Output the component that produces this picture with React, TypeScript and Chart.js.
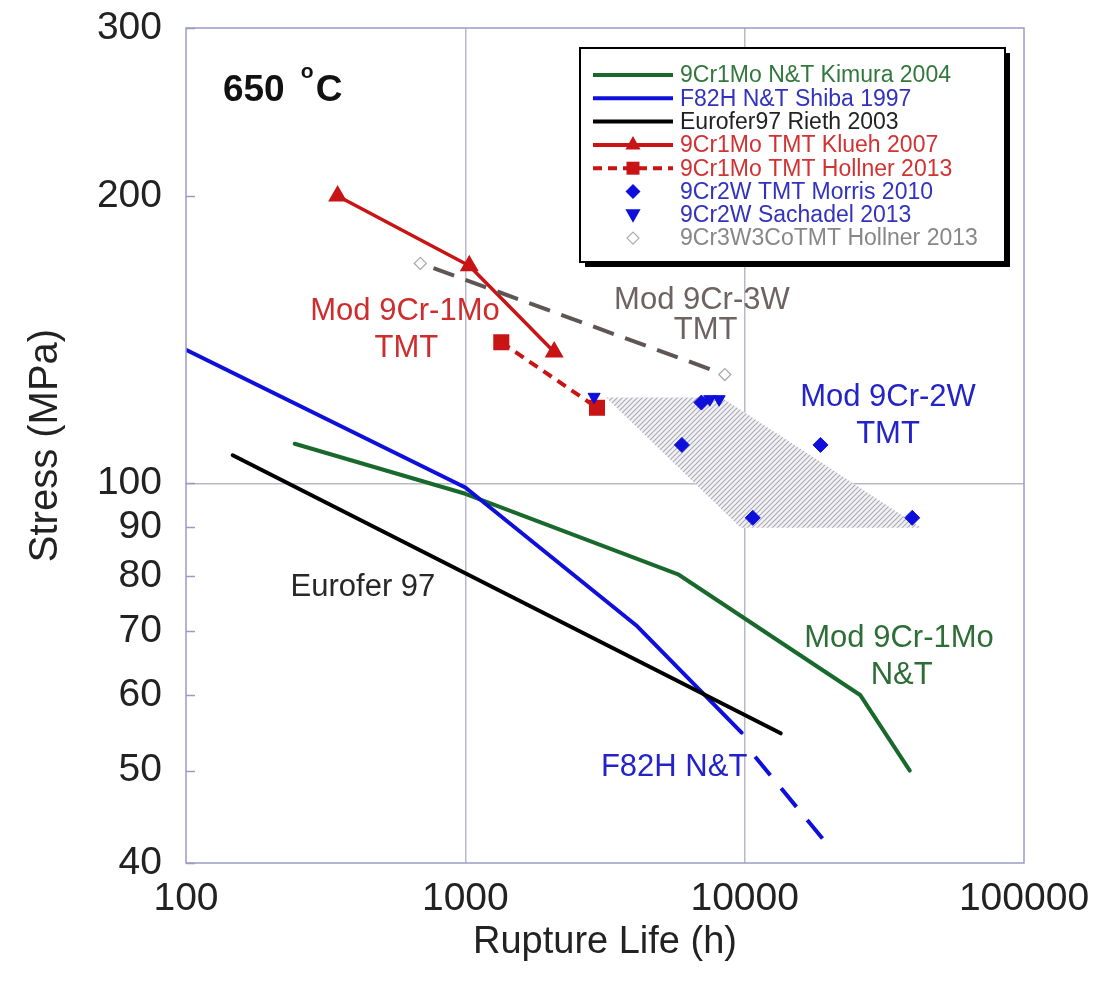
import React, { useEffect, useRef } from 'react';
import { Chart, registerables } from 'chart.js';

Chart.register(...registerables);

const FONT = '"Liberation Sans", Arial, sans-serif';

// Axis ticks
const xTicks = [100, 1000, 10000, 100000];
const yTicks = [40, 50, 60, 70, 80, 90, 100, 200, 300];

// Series (rupture life h, stress MPa)
const kimuraX = [245, 1000, 5810, 25900, 39000];
const kimuraY = [110, 97.5, 80.2, 60, 50];
const shibaX = [100, 1000, 4085, 9750];
const shibaY = [138, 99, 71, 54.8];
const shibaExtX = [10900, 19950];
const shibaExtY = [51.7, 41.7];
const riethX = [147, 1000, 13460];
const riethY = [107, 80.5, 54.7];
const kluehX = [349, 1033, 2080];
const kluehY = [200, 169, 137.3];
const hollnerX = [1345, 2960];
const hollnerY = [140.5, 120];
const morrisX = [5960, 18680, 10690, 39800, 7000];
const morrisY = [109.7, 109.7, 92, 92, 121.5];
const sachadelX = [2890, 7500, 8100];
const sachadelY = [123.2, 122.5, 122.5];
const hollnerCoX = [690, 8490];
const hollnerCoY = [170, 130];
const bandX = [3190, 8280, 42850, 9680, 3190];
const bandY = [123, 123, 89.8, 89.8, 123];

// Legend
const legendLabels = [
  '9Cr1Mo N&T Kimura 2004',
  'F82H N&T Shiba 1997',
  'Eurofer97 Rieth 2003',
  '9Cr1Mo TMT Klueh 2007',
  '9Cr1Mo TMT Hollner 2013',
  '9Cr2W TMT Morris 2010',
  '9Cr2W Sachadel 2013',
  '9Cr3W3CoTMT Hollner 2013',
];
const legendTextColors = [
  'rgb(50,120,60)', 'rgb(50,50,190)', '#222', 'rgb(210,50,50)',
  'rgb(210,50,50)', 'rgb(50,50,190)', 'rgb(50,50,190)', 'rgb(135,135,135)',
];

// In-plot labels (positioned in data coordinates)
const annotText = ['Mod 9Cr-1Mo', 'TMT', 'Mod 9Cr-3W', 'TMT', 'Mod 9Cr-2W', 'TMT', 'Eurofer 97', 'Mod 9Cr-1Mo', 'N&T', 'F82H N&T'];
const annotX = [608, 615, 7030, 7250, 32600, 32600, 430, 35700, 36500, 5590];
const annotY = [151.4, 138.5, 155.4, 144.6, 123, 112.6, 77.7, 68.8, 62.9, 50.4];
const annotColor = [
  'rgb(205,45,45)', 'rgb(205,45,45)', 'rgb(110,98,98)', 'rgb(110,98,98)',
  'rgb(35,35,200)', 'rgb(35,35,200)', 'rgb(40,40,40)', 'rgb(45,110,55)', 'rgb(45,110,55)', 'rgb(35,35,200)',
];
const tempLabelX = 135.6;
const tempLabelY = 258;

const GREEN = 'rgb(25,105,45)';
const BLUE = 'rgb(15,15,220)';
const RED = 'rgb(200,20,20)';
const GRAYLINE = 'rgb(95,85,85)';
const BORDER = 'rgb(155,155,200)';
const GRID = 'rgb(185,185,198)';

const pts = (xs: number[], ys: number[]) => xs.map((x, i) => ({ x, y: ys[i] }));

function drawMarker(ctx: CanvasRenderingContext2D, kind: string, x: number, y: number, r: number, fill: string, stroke?: string) {
  ctx.beginPath();
  if (kind === 'tri') {
    ctx.moveTo(x, y - r);
    ctx.lineTo(x + r * 0.95, y + r * 0.7);
    ctx.lineTo(x - r * 0.95, y + r * 0.7);
  } else if (kind === 'tridown') {
    ctx.moveTo(x, y + r);
    ctx.lineTo(x + r * 0.95, y - r * 0.7);
    ctx.lineTo(x - r * 0.95, y - r * 0.7);
  } else if (kind === 'square') {
    ctx.rect(x - r, y - r, 2 * r, 2 * r);
  } else if (kind === 'diamond') {
    ctx.moveTo(x, y - r);
    ctx.lineTo(x + r, y);
    ctx.lineTo(x, y + r);
    ctx.lineTo(x - r, y);
  }
  ctx.closePath();
  ctx.fillStyle = fill;
  ctx.fill();
  if (stroke) {
    ctx.strokeStyle = stroke;
    ctx.lineWidth = 1.2;
    ctx.stroke();
  }
}

const decor = {
  id: 'decor',
  afterDraw(chart: any) {
    const { ctx, chartArea: a, scales } = chart;
    const xs = scales.x;
    const ys = scales.y;
    ctx.save();
    // frame
    ctx.strokeStyle = BORDER;
    ctx.lineWidth = 1.5;
    ctx.strokeRect(a.left, a.top, a.right - a.left, a.bottom - a.top);
    // inward ticks on y axis
    yTicks.forEach((v) => {
      const py = Math.round(ys.getPixelForValue(v)) + 0.5;
      ctx.beginPath();
      ctx.moveTo(a.left, py);
      ctx.lineTo(a.left + 9, py);
      ctx.stroke();
    });

    // in-plot labels
    ctx.textAlign = 'center';
    ctx.textBaseline = 'middle';
    ctx.font = `31px ${FONT}`;
    annotText.forEach((t, i) => {
      ctx.fillStyle = annotColor[i];
      ctx.fillText(t, xs.getPixelForValue(annotX[i]), ys.getPixelForValue(annotY[i]));
    });

    // temperature label
    const tx = xs.getPixelForValue(tempLabelX);
    const ty = ys.getPixelForValue(tempLabelY);
    ctx.textAlign = 'left';
    ctx.fillStyle = '#111';
    ctx.font = `bold 37px ${FONT}`;
    ctx.fillText('650', tx, ty);
    const w650 = ctx.measureText('650').width;
    ctx.font = `bold 21px ${FONT}`;
    ctx.fillText('o', tx + w650 + 16, ty - 18);
    ctx.font = `bold 37px ${FONT}`;
    ctx.fillText('C', tx + w650 + 31, ty);

    // legend box
    const lx = 580, ly = 48, lw = 425, lh = 214;
    ctx.fillStyle = '#000';
    ctx.fillRect(lx + 5, ly + 5, lw, lh);
    ctx.fillStyle = '#fff';
    ctx.fillRect(lx, ly, lw, lh);
    ctx.strokeStyle = '#000';
    ctx.lineWidth = 2;
    ctx.strokeRect(lx, ly, lw, lh);

    const rowY0 = 75;
    const rowStep = 23.3;
    const sx0 = 593, sx1 = 673, sxc = 633;
    ctx.font = `23px ${FONT}`;
    ctx.textBaseline = 'middle';
    legendLabels.forEach((lab, i) => {
      const yy = rowY0 + i * rowStep;
      ctx.lineCap = 'butt';
      if (i <= 4) {
        const col = i === 0 ? GREEN : i === 1 ? BLUE : i === 2 ? '#000' : RED;
        ctx.strokeStyle = col;
        ctx.lineWidth = 4;
        ctx.setLineDash(i === 4 ? [9, 6] : []);
        ctx.beginPath();
        ctx.moveTo(sx0, yy);
        ctx.lineTo(sx1, yy);
        ctx.stroke();
        ctx.setLineDash([]);
      }
      if (i === 3) drawMarker(ctx, 'tri', sxc, yy - 1, 8, RED);
      if (i === 4) drawMarker(ctx, 'square', sxc, yy, 6.5, RED);
      if (i === 5) drawMarker(ctx, 'diamond', sxc, yy, 7.5, BLUE);
      if (i === 6) drawMarker(ctx, 'tridown', sxc, yy, 8, BLUE);
      if (i === 7) drawMarker(ctx, 'diamond', sxc, yy, 6, '#fff', 'rgb(170,170,170)');
      ctx.fillStyle = legendTextColors[i];
      ctx.fillText(lab, 680, yy + 1);
    });
    ctx.restore();
  },
};

export default function App() {
  const ref = useRef<HTMLCanvasElement>(null);

  useEffect(() => {
    const canvas = ref.current!;
    const ctx2 = canvas.getContext('2d')!;

    const pc = document.createElement('canvas');
    pc.width = 5;
    pc.height = 5;
    const g = pc.getContext('2d')!;
    g.fillStyle = 'rgb(242,242,245)';
    g.fillRect(0, 0, 5, 5);
    g.strokeStyle = 'rgb(172,172,182)';
    g.lineWidth = 1.2;
    g.beginPath();
    g.moveTo(-1, 6); g.lineTo(6, -1);
    g.moveTo(-4, 4); g.lineTo(4, -4);
    g.moveTo(1, 9); g.lineTo(9, 1);
    g.stroke();
    const hatch = ctx2.createPattern(pc, 'repeat');

    const lineBase = {
      showLine: true,
      tension: 0,
      pointRadius: 0,
      borderWidth: 4,
      borderCapStyle: 'round',
      borderJoinStyle: 'round',
      fill: false,
    };

    const chart = new Chart(canvas, {
      type: 'scatter',
      data: {
        datasets: [
          {
            label: '9Cr2W Sachadel 2013',
            data: pts(sachadelX, sachadelY),
            pointStyle: 'triangle',
            rotation: 180,
            pointRadius: 7,
            backgroundColor: BLUE,
            borderColor: BLUE,
            borderWidth: 1,
          },
          {
            label: '9Cr2W TMT Morris 2010',
            data: pts(morrisX, morrisY),
            pointStyle: 'rectRot',
            pointRadius: 7.5,
            backgroundColor: BLUE,
            borderColor: BLUE,
            borderWidth: 1,
          },
          {
            ...lineBase,
            label: '9Cr3W3CoTMT Hollner 2013',
            data: pts(hollnerCoX, hollnerCoY),
            borderColor: GRAYLINE,
            borderDash: [22, 12],
            borderDashOffset: -14,
            borderCapStyle: 'butt',
            pointStyle: 'rectRot',
            pointRadius: 6,
            pointBackgroundColor: '#fff',
            pointBorderColor: 'rgb(170,170,170)',
            pointBorderWidth: 1.3,
          },
          {
            ...lineBase,
            label: '9Cr1Mo TMT Hollner 2013',
            data: pts(hollnerX, hollnerY),
            borderColor: RED,
            borderDash: [10, 7],
            borderCapStyle: 'butt',
            pointStyle: 'rect',
            pointRadius: 8.5,
            pointBackgroundColor: RED,
            pointBorderColor: RED,
          },
          {
            ...lineBase,
            label: '9Cr1Mo TMT Klueh 2007',
            data: pts(kluehX, kluehY),
            borderColor: RED,
            borderWidth: 3.5,
            pointStyle: 'triangle',
            pointRadius: 7.5,
            pointBackgroundColor: RED,
            pointBorderColor: RED,
          },
          {
            ...lineBase,
            label: 'Eurofer97 Rieth 2003',
            data: pts(riethX, riethY),
            borderColor: '#000',
          },
          {
            ...lineBase,
            label: 'F82H N&T Shiba 1997',
            data: pts(shibaX, shibaY),
            borderColor: BLUE,
          },
          {
            ...lineBase,
            label: 'F82H extrapolation',
            data: pts(shibaExtX, shibaExtY),
            borderColor: BLUE,
            borderDash: [24, 17],
            borderCapStyle: 'butt',
          },
          {
            ...lineBase,
            label: '9Cr1Mo N&T Kimura 2004',
            data: pts(kimuraX, kimuraY),
            borderColor: GREEN,
          },
          {
            label: 'Mod 9Cr-2W band',
            data: pts(bandX, bandY),
            showLine: true,
            tension: 0,
            pointRadius: 0,
            borderWidth: 0,
            borderColor: 'rgba(0,0,0,0)',
            backgroundColor: hatch,
            fill: 'shape',
          },
        ],
      },
      options: {
        responsive: false,
        animation: false,
        events: [],
        layout: { padding: { top: 28, right: 85, left: 0, bottom: 0 } },
        plugins: {
          legend: { display: false },
          tooltip: { enabled: false },
        },
        scales: {
          x: {
            type: 'logarithmic',
            position: 'bottom',
            min: 100,
            max: 100000,
            afterBuildTicks: (s: any) => {
              s.ticks = xTicks.map((v) => ({ value: v }));
            },
            afterFit: (s: any) => {
              s.height = 119;
              s.paddingLeft = 0;
              s.paddingRight = 0;
            },
            ticks: {
              callback: (v: any) => String(v),
              font: { family: FONT, size: 39 },
              color: '#222',
              padding: 13,
              maxRotation: 0,
              autoSkip: false,
            },
            grid: {
              color: (c: any) => (c.tick && (c.tick.value === 1000 || c.tick.value === 10000) ? GRID : 'rgba(0,0,0,0)'),
              lineWidth: 1.5,
              drawTicks: false,
            },
            border: { display: false },
            title: {
              display: true,
              text: 'Rupture Life (h)',
              font: { family: FONT, size: 38 },
              color: '#222',
              padding: { top: 0, bottom: 17 },
            },
          },
          y: {
            type: 'logarithmic',
            position: 'left',
            min: 40,
            max: 300,
            afterBuildTicks: (s: any) => {
              s.ticks = yTicks.map((v) => ({ value: v }));
            },
            afterFit: (s: any) => {
              s.width = 186;
              s.paddingTop = 0;
              s.paddingBottom = 0;
            },
            ticks: {
              callback: (v: any) => String(v),
              font: { family: FONT, size: 39 },
              color: '#222',
              padding: 24,
              autoSkip: false,
            },
            grid: {
              color: (c: any) => (c.tick && c.tick.value === 100 ? GRID : 'rgba(0,0,0,0)'),
              lineWidth: 1.5,
              drawTicks: false,
            },
            border: { display: false },
            title: {
              display: true,
              text: 'Stress (MPa)',
              font: { family: FONT, size: 40 },
              color: '#222',
              padding: { top: 22, bottom: 0 },
            },
          },
        },
      } as any,
      plugins: [decor],
    });
    return () => chart.destroy();
  }, []);

  return (
    <div style={{ position: 'fixed', left: 0, top: 0, width: 1109, height: 982, background: '#fff' }}>
      <canvas ref={ref} width={1109} height={982} style={{ width: 1109, height: 982, display: 'block' }} />
    </div>
  );
}
